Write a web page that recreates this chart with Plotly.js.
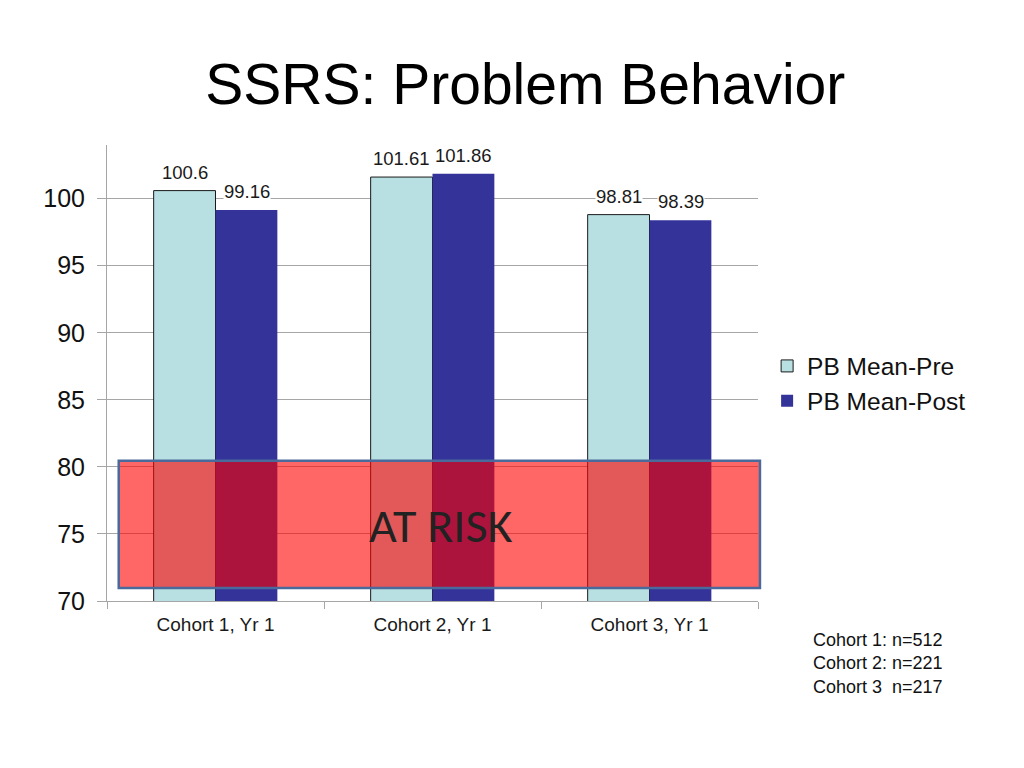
<!DOCTYPE html>
<html>
<head>
<meta charset="utf-8">
<script src="https://cdn.plot.ly/plotly-3.0.1.min.js"></script>
<style>html,body{margin:0;padding:0;background:#fff;}#chart{width:1024px;height:768px;}</style>
</head>
<body>
<div id="chart"></div>
<script>
const categories = ["Cohort 1, Yr 1", "Cohort 2, Yr 1", "Cohort 3, Yr 1"];
const preValues = [100.6, 101.61, 98.81];
const postValues = [99.16, 101.86, 98.39];
const seriesNames = ["PB Mean-Pre", "PB Mean-Post"];
const yTicks = [70, 75, 80, 85, 90, 95, 100];
const atRiskBand = [70.97, 80.45];
const footnoteLines = ["Cohort 1: n=512", "Cohort 2: n=221", "Cohort 3&nbsp;&nbsp;n=217"];

const FONT = "Liberation Sans, Arial, sans-serif";

const traces = [
  {
    type: "bar", name: seriesNames[0], x: categories, y: preValues,
    marker: {color: "#B8DFE1", line: {color: "#1a1a1a", width: 1}},
    hoverinfo: "skip"
  },
  {
    type: "bar", name: seriesNames[1], x: categories, y: postValues,
    marker: {color: "#333399", line: {color: "#333399", width: 0}},
    hoverinfo: "skip"
  }
];

const annotations = [];
categories.forEach((c, i) => {
  [[preValues[i], -31], [postValues[i], 31]].forEach(([v, dx]) => {
    annotations.push({
      x: c, y: v, xref: "x", yref: "y", text: String(v),
      showarrow: false, xshift: dx, yanchor: "bottom", yshift: 7,
      bgcolor: "#ffffff", borderpad: 0,
      font: {family: FONT, size: 18.5, color: "#1a1a1a"}
    });
  });
});
annotations.push({
  xref: "paper", yref: "y", x: 0.5, y: (atRiskBand[0] + atRiskBand[1]) / 2,
  text: "AT RISK", showarrow: false, yshift: -1, xshift: 8,
  font: {family: "Carlito, Lato, Open Sans, sans-serif", size: 48, color: "#222222"}
});
annotations.push({
  xref: "paper", yref: "paper", x: 1.082, y: -0.06, xanchor: "left", yanchor: "top",
  align: "left", showarrow: false, text: footnoteLines.join("<br>"),
  font: {family: FONT, size: 18, color: "#111111"}
});

const layout = {
  width: 1024, height: 768,
  margin: {l: 107, r: 266, t: 145, b: 167},
  paper_bgcolor: "#ffffff", plot_bgcolor: "#ffffff",
  title: {
    text: "SSRS: Problem Behavior", x: 0.513, xanchor: "center", y: 0.89, yanchor: "middle",
    font: {family: FONT, size: 57, color: "#000000"}
  },
  barmode: "group", bargap: 0.43, bargroupgap: 0,
  showlegend: true,
  legend: {
    x: 1.014, y: 0.477, xanchor: "left", yanchor: "middle",
    font: {family: FONT, size: 24.5, color: "#111111"},
    itemwidth: 30, bgcolor: "rgba(0,0,0,0)"
  },
  xaxis: {
    type: "category", tickson: "boundaries", ticks: "outside", ticklen: 7,
    tickcolor: "#a6a6a6", showline: true, linecolor: "#a6a6a6", linewidth: 1,
    showgrid: false, tickfont: {family: FONT, size: 19, color: "#1a1a1a"},
    ticklabelstandoff: 6, fixedrange: true
  },
  yaxis: {
    range: [70, 104], tickvals: yTicks, ticks: "outside", ticklen: 9,
    tickcolor: "#a6a6a6", showline: true, linecolor: "#a6a6a6", linewidth: 1,
    showgrid: true, gridcolor: "#a6a6a6", gridwidth: 1, zeroline: false,
    tickfont: {family: FONT, size: 25, color: "#111111"}, ticklabelstandoff: 7,
    fixedrange: true
  },
  shapes: [{
    type: "rect", xref: "paper", yref: "y", x0: 0.018, x1: 1.003,
    y0: atRiskBand[0], y1: atRiskBand[1], layer: "above",
    fillcolor: "rgba(255,0,0,0.6)", line: {color: "#4A6A9C", width: 2.5}
  }],
  annotations: annotations
};

Plotly.newPlot("chart", traces, layout, {displayModeBar: false, staticPlot: true});
</script>
</body>
</html>
